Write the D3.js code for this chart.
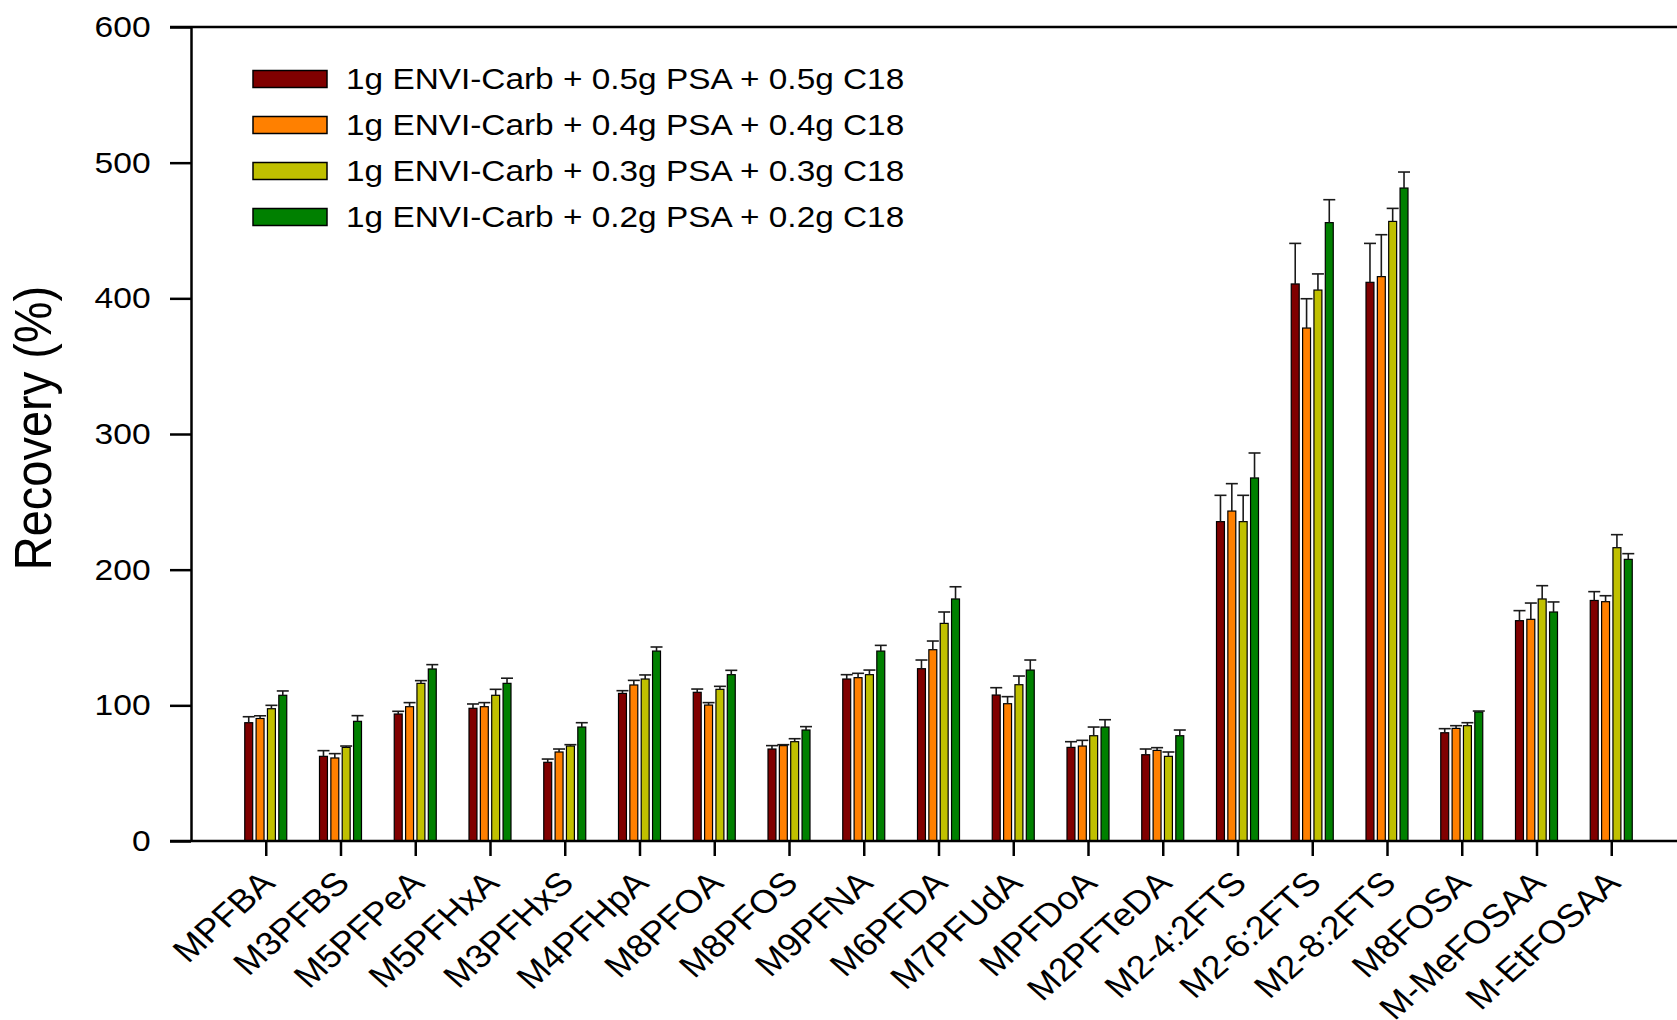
<!DOCTYPE html>
<html>
<head>
<meta charset="utf-8">
<script src="https://cdn.jsdelivr.net/npm/d3@7"></script>
<style>
  html, body { margin: 0; padding: 0; background: #fff; }
  svg { display: block; font-family: "Liberation Sans", Arial, sans-serif; }
</style>
</head>
<body>
<div id="chart"></div>
<script>
const categories = ["MPFBA", "M3PFBS", "M5PFPeA", "M5PFHxA", "M3PFHxS", "M4PFHpA", "M8PFOA", "M8PFOS",
  "M9PFNA", "M6PFDA", "M7PFUdA", "MPFDoA", "M2PFTeDA", "M2-4:2FTS", "M2-6:2FTS", "M2-8:2FTS",
  "M8FOSA", "M-MeFOSAA", "M-EtFOSAA"];

const seriesNames = [
  "1g ENVI-Carb + 0.5g PSA + 0.5g C18",
  "1g ENVI-Carb + 0.4g PSA + 0.4g C18",
  "1g ENVI-Carb + 0.3g PSA + 0.3g C18",
  "1g ENVI-Carb + 0.2g PSA + 0.2g C18"
];
const seriesColors = ["#800000", "#ff8000", "#c0c000", "#008000"];

// mean recovery (%)
const mean05 = [87.2, 62.4, 93.6, 97.8, 58, 108.8, 109.6, 67.8, 119.4, 127, 107.6, 69, 63.6, 235.4, 410.6, 411.8, 79.8, 162.4, 177.3];
const mean04 = [90.3, 61.2, 99, 99, 65.6, 115, 100.2, 70.3, 120.4, 141, 101.2, 70, 66.8, 243.2, 378.1, 416, 83, 163.4, 176.4];
const mean03 = [97.5, 69, 116.2, 107.4, 70, 119.4, 111.8, 73.2, 122.6, 160.4, 115.2, 77.6, 62.4, 235.4, 406.1, 456.7, 85, 178.4, 216.2];
const mean02 = [107.4, 88.2, 126.8, 116.2, 84, 140, 122.6, 81.8, 140, 178.4, 126, 84, 77.6, 267.6, 455.8, 481.3, 95.1, 168.8, 207.6];

// standard deviations (upper error bars)
const sd05 = [4.4, 4.2, 2.0, 3.2, 2.4, 2.0, 2.4, 2.5, 3.2, 6.4, 5.4, 4.2, 4.2, 19.4, 29.9, 28.7, 3.0, 7.4, 6.5];
const sd04 = [2.0, 3.2, 3.0, 3.0, 2.2, 3.4, 1.8, 0.7, 3.2, 6.4, 5.2, 4.2, 2.0, 20.2, 21.6, 30.9, 2.0, 12.0, 4.4];
const sd03 = [2.5, 1.0, 2.0, 4.4, 1.0, 3.0, 2.2, 2.2, 3.4, 8.4, 6.4, 6.4, 3.2, 19.4, 11.9, 9.6, 2.2, 9.8, 9.6];
const sd02 = [3.2, 4.2, 3.2, 3.8, 3.2, 3.0, 3.2, 2.5, 4.2, 9.0, 7.4, 5.4, 4.2, 18.4, 16.9, 11.8, 0.7, 7.4, 4.2];

const yTicks = [0, 100, 200, 300, 400, 500, 600];

const means = [mean05, mean04, mean03, mean02];
const sds = [sd05, sd04, sd03, sd02];

const W = 1677, H = 1020;
const axisX = 191, axisTop = 27, axisBottom = 841;
const stretch = 1.12; // text in the original is a bit wider than tall

const svg = d3.select("#chart").append("svg")
  .attr("width", W).attr("height", H);

svg.append("rect").attr("width", W).attr("height", H).attr("fill", "#fff");

const x = d3.scalePoint()
  .domain(categories)
  .range([axisX, axisX + 20 * 74.75])
  .padding(1);

const xs = d3.scaleBand()
  .domain(d3.range(4))
  .range([-21, 21])
  .paddingInner(0.3);

const y = d3.scaleLinear()
  .domain([0, 600])
  .range([axisBottom, axisTop]);

// table built from the arrays
const rows = [];
categories.forEach((c, i) => {
  for (let s = 0; s < 4; s++) rows.push({ cat: c, s: s, v: means[s][i], e: sds[s][i] });
});

// bars
svg.append("g").selectAll("rect")
  .data(rows)
  .enter().append("rect")
  .attr("x", d => x(d.cat) + xs(d.s))
  .attr("y", d => y(d.v))
  .attr("width", xs.bandwidth())
  .attr("height", d => y(0) - y(d.v))
  .attr("fill", d => seriesColors[d.s])
  .attr("stroke", "#000")
  .attr("stroke-width", 1.2);

// error bars (upper only)
const err = svg.append("g").attr("stroke", "#1a1a1a").attr("stroke-width", 1.6);
rows.forEach(d => {
  const cx = x(d.cat) + xs(d.s) + xs.bandwidth() / 2;
  err.append("line")
    .attr("x1", cx).attr("x2", cx)
    .attr("y1", y(d.v)).attr("y2", y(d.v + d.e));
  err.append("line")
    .attr("x1", cx - 6).attr("x2", cx + 6)
    .attr("y1", y(d.v + d.e)).attr("y2", y(d.v + d.e));
});

// y axis
const yAxis = svg.append("g")
  .attr("transform", `translate(${axisX},0)`)
  .call(d3.axisLeft(y).tickValues(yTicks).tickSize(21).tickPadding(15).tickSizeOuter(0));
yAxis.select(".domain").attr("stroke-width", 2.5);
yAxis.selectAll(".tick line").attr("stroke-width", 2.5);
yAxis.selectAll(".tick text")
  .attr("transform", `scale(${stretch},1)`)
  .style("font-size", "30px")
  .style("font-family", "'Liberation Sans', Arial, sans-serif")
  .attr("fill", "#000");

// top frame line and x axis line
svg.append("line")
  .attr("x1", axisX - 21).attr("x2", W)
  .attr("y1", y(600)).attr("y2", y(600))
  .attr("stroke", "#000").attr("stroke-width", 2.5);
svg.append("line")
  .attr("x1", axisX - 21).attr("x2", W)
  .attr("y1", y(0)).attr("y2", y(0))
  .attr("stroke", "#000").attr("stroke-width", 2.5);

// x axis ticks
const xAxis = svg.append("g")
  .attr("transform", `translate(0,${axisBottom})`)
  .call(d3.axisBottom(x).tickSize(15).tickFormat(""));
xAxis.select(".domain").remove();
xAxis.selectAll(".tick line").attr("stroke-width", 2.5);

// x labels, rotated
svg.append("g").selectAll("text")
  .data(categories)
  .enter().append("text")
  .attr("transform", d => `translate(${x(d) + 11},885) scale(${stretch},1) rotate(-45)`)
  .attr("text-anchor", "end")
  .style("font-size", "32.5px")
  .attr("fill", "#000")
  .text(d => d);

// y label
svg.append("text")
  .attr("transform", `translate(51,428) scale(${stretch},1) rotate(-90)`)
  .attr("text-anchor", "middle")
  .style("font-size", "47px")
  .attr("fill", "#000")
  .text("Recovery (%)");

// legend
const legend = svg.selectAll(".legend")
  .data(seriesNames)
  .enter().append("g")
  .attr("class", "legend")
  .attr("transform", (d, i) => `translate(253, ${79 + i * 46})`);

legend.append("rect")
  .attr("x", 0).attr("y", -8.5)
  .attr("width", 74).attr("height", 17)
  .attr("fill", (d, i) => seriesColors[i])
  .attr("stroke", "#000")
  .attr("stroke-width", 1.5);

legend.append("text")
  .attr("transform", `translate(93,10) scale(${stretch},1)`)
  .style("font-size", "29.8px")
  .attr("fill", "#000")
  .text(d => d);
</script>
</body>
</html>
